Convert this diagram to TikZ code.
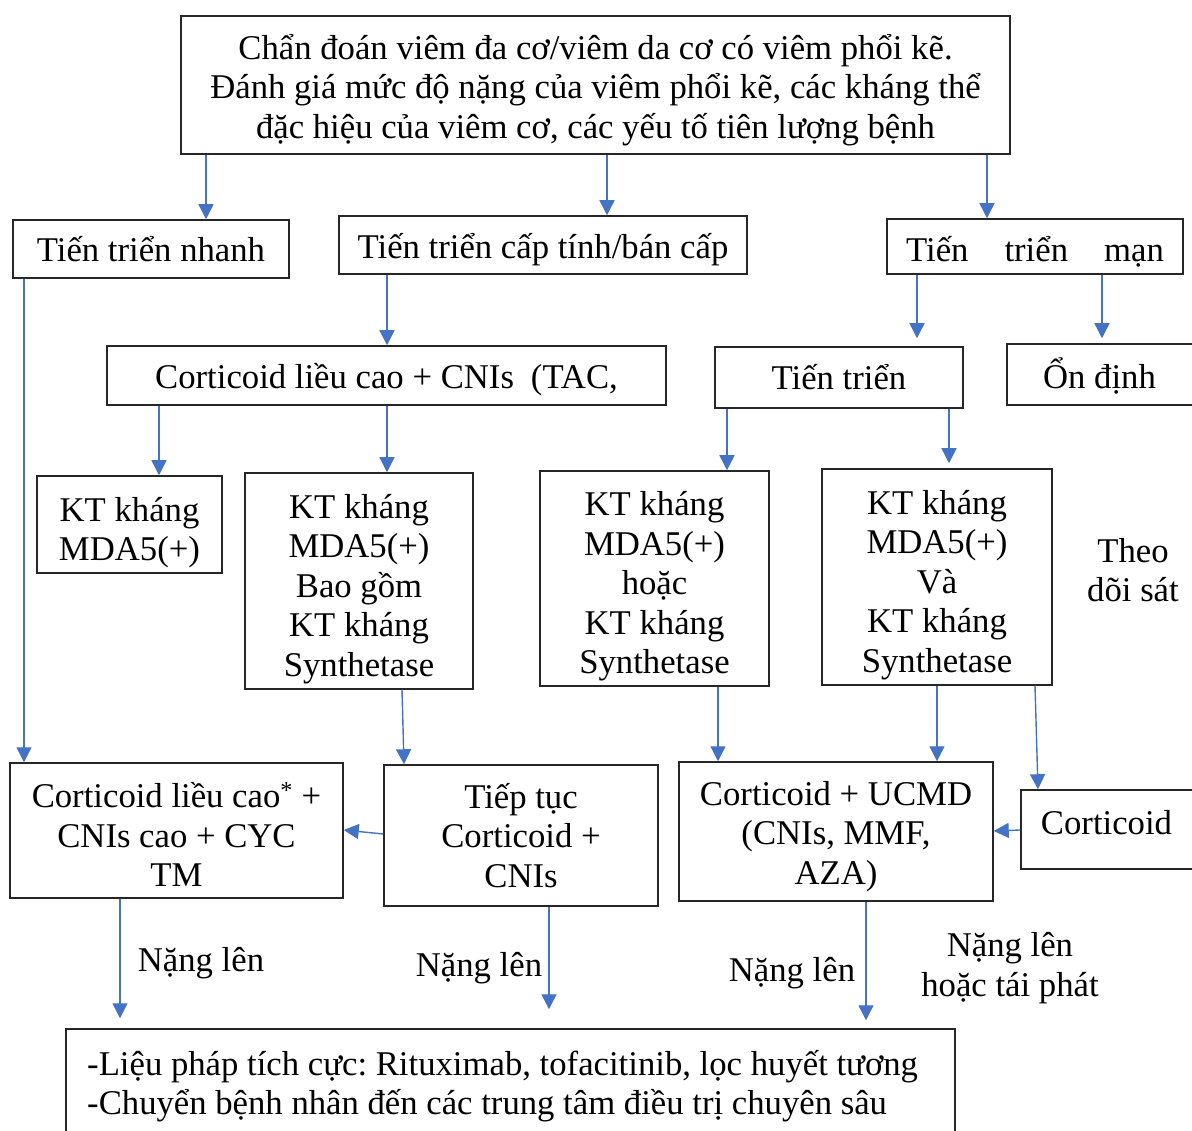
\documentclass[tikz,border=0pt]{standalone}
\usepackage{fontspec}
\setmainfont{Liberation Serif}
\usetikzlibrary{arrows.meta}
\definecolor{arrblue}{HTML}{4472C4}
\frenchspacing
\tikzset{
  every node/.style={font=\fontsize{34.7}{39.5}\selectfont, inner sep=0pt},
  box/.style={draw=black!85, line width=1.5pt},
  lbl/.style={align=center},
  arr/.style={draw=arrblue, line width=1.4pt, -{Triangle[width=15pt,length=15pt]}}
}
\begin{document}
\begin{tikzpicture}[x=1pt,y=-1pt]
\useasboundingbox (0,0) rectangle (1192,1131);
% boxes
\node[box, minimum width=829, minimum height=138] (top) at (595.5,85) {};
\node[lbl] (top-t) at (595.5,90)
  {Chẩn đoán viêm đa cơ/viêm da cơ có viêm phổi kẽ.\\Đánh giá mức độ nặng của viêm phổi kẽ, các kháng thể\\đặc hiệu của viêm cơ, các yếu tố tiên lượng bệnh};
\node[box, minimum width=276, minimum height=58] (nhanh) at (151,249) {};
\node[lbl] (nhanh-t) at (151,249) {Tiến triển nhanh};
\node[box, minimum width=408, minimum height=58] (acute) at (543,245) {};
\node[lbl] (acute-t) at (543,250) {Tiến triển cấp tính/bán cấp};
\node[box, minimum width=296, minimum height=55] (chronic) at (1035,246.5) {};
\node[lbl] (chronic-t) at (1035,251.5) {Tiến\hspace*{36pt}triển\hspace*{36pt}mạn};
\node[box, minimum width=559, minimum height=59] (cni) at (386.5,375.5) {};
\node[lbl] (cni-t) at (386.5,379.5) {Corticoid liều cao + CNIs\hspace*{17pt}(TAC,};
\node[box, minimum width=248, minimum height=61] (prog) at (839,377.5) {};
\node[lbl] (prog-t) at (839,377.5) {Tiến triển};
\node[box, minimum width=187, minimum height=61] (stable) at (1100.5,374.5) {};
\node[lbl] (stable-t) at (1099.5,375.5) {Ổn định};
\node[box, minimum width=185, minimum height=97] (kt1) at (129.5,524.5) {};
\node[lbl] (kt1-t) at (129.5,532.5) {KT kháng\\MDA5(+)};
\node[box, minimum width=228, minimum height=216] (kt2) at (359,581) {};
\node[lbl] (kt2-t) at (359,589) {KT kháng\\MDA5(+)\\Bao gồm\\KT kháng\\Synthetase};
\node[box, minimum width=229, minimum height=215] (kt3) at (654.5,578.5) {};
\node[lbl] (kt3-t) at (654.5,586.5) {KT kháng\\MDA5(+)\\hoặc\\KT kháng\\Synthetase};
\node[box, minimum width=230, minimum height=216] (kt4) at (937,577) {};
\node[lbl] (kt4-t) at (937,585) {KT kháng\\MDA5(+)\\Và\\KT kháng\\Synthetase};
\node[lbl] (theo) at (1133,570) {Theo\\dõi sát};
\node[box, minimum width=333, minimum height=135] (cyc) at (176.5,830.5) {};
\node[lbl] (cyc-t) at (176.5,834.5) {Corticoid liều cao\textsuperscript{*} +\\CNIs cao + CYC\\TM};
\node[box, minimum width=274, minimum height=141] (tt) at (521,835.5) {};
\node[lbl] (tt-t) at (521,835.5) {Tiếp tục\\Corticoid +\\CNIs};
\node[box, minimum width=314, minimum height=139] (ucmd) at (836,831.5) {};
\node[lbl] (ucmd-t) at (836,836.5) {Corticoid + UCMD\\(CNIs, MMF,\\AZA)};
\node[box, minimum width=173, minimum height=79] (cort) at (1107.5,829.5) {};
\node[lbl] (cort-t) at (1106.5,823) {Corticoid};
\node[box, minimum width=889, minimum height=106] (final) at (510.5,1082) {};
\node[align=left, anchor=west] (final-t) at (87,1086)
  {-Liệu pháp tích cực: Rituximab, tofacitinib, lọc huyết tương\\-Chuyển bệnh nhân đến các trung tâm điều trị chuyên sâu};
% labels
\node[lbl] (n1) at (201,963) {Nặng lên};
\node[lbl] (n2) at (479,968) {Nặng lên};
\node[lbl] (n3) at (792,973) {Nặng lên};
\node[lbl] (n4) at (1010,968) {Nặng lên\\hoặc tái phát};
% arrows
\draw[arr] (top.south -| 206,0) -- (nhanh.north -| 206,0);
\draw[arr] (top.south -| 607,0) -- (acute.north -| 607,0);
\draw[arr] (top.south -| 987,0) -- (chronic.north -| 987,0);
\draw[arr] (nhanh.south -| 24,0) -- (cyc.north -| 24,0);
\draw[arr] (acute.south -| 387,0) -- (cni.north -| 387,0);
\draw[arr] (cni.south -| 159,0) -- (kt1.north -| 159,0);
\draw[arr] (cni.south -| 387,0) -- (kt2.north -| 387,0);
\draw[arr, shorten >=8pt] (chronic.south -| 917,0) -- (prog.north -| 917,0);
\draw[arr, shorten >=5pt] (chronic.south -| 1102,0) -- (stable.north -| 1102,0);
\draw[arr] (prog.south -| 727,0) -- (kt3.north -| 727,0);
\draw[arr, shorten >=5pt] (prog.south -| 949,0) -- (kt4.north -| 949,0);
\draw[arr] (kt2.south -| 402,0) -- (tt.north -| 404,0);
\draw[arr] (tt.west |- 0,834) -- (cyc.east |- 0,830);
\draw[arr] (kt3.south -| 718,0) -- (ucmd.north -| 718,0);
\draw[arr] (kt4.south -| 937,0) -- (ucmd.north -| 937,0);
\draw[arr] (kt4.south -| 1035,0) -- (cort.north -| 1038,0);
\draw[arr] (cort.west |- 0,830) -- (ucmd.east |- 0,831);
\draw[arr, shorten >=10pt] (cyc.south -| 120,0) -- (final.north -| 120,0);
\draw[arr, shorten >=19pt] (tt.south -| 549,0) -- (final.north -| 549,0);
\draw[arr, shorten >=8pt] (ucmd.south -| 866,0) -- (final.north -| 866,0);
\end{tikzpicture}
\end{document}
